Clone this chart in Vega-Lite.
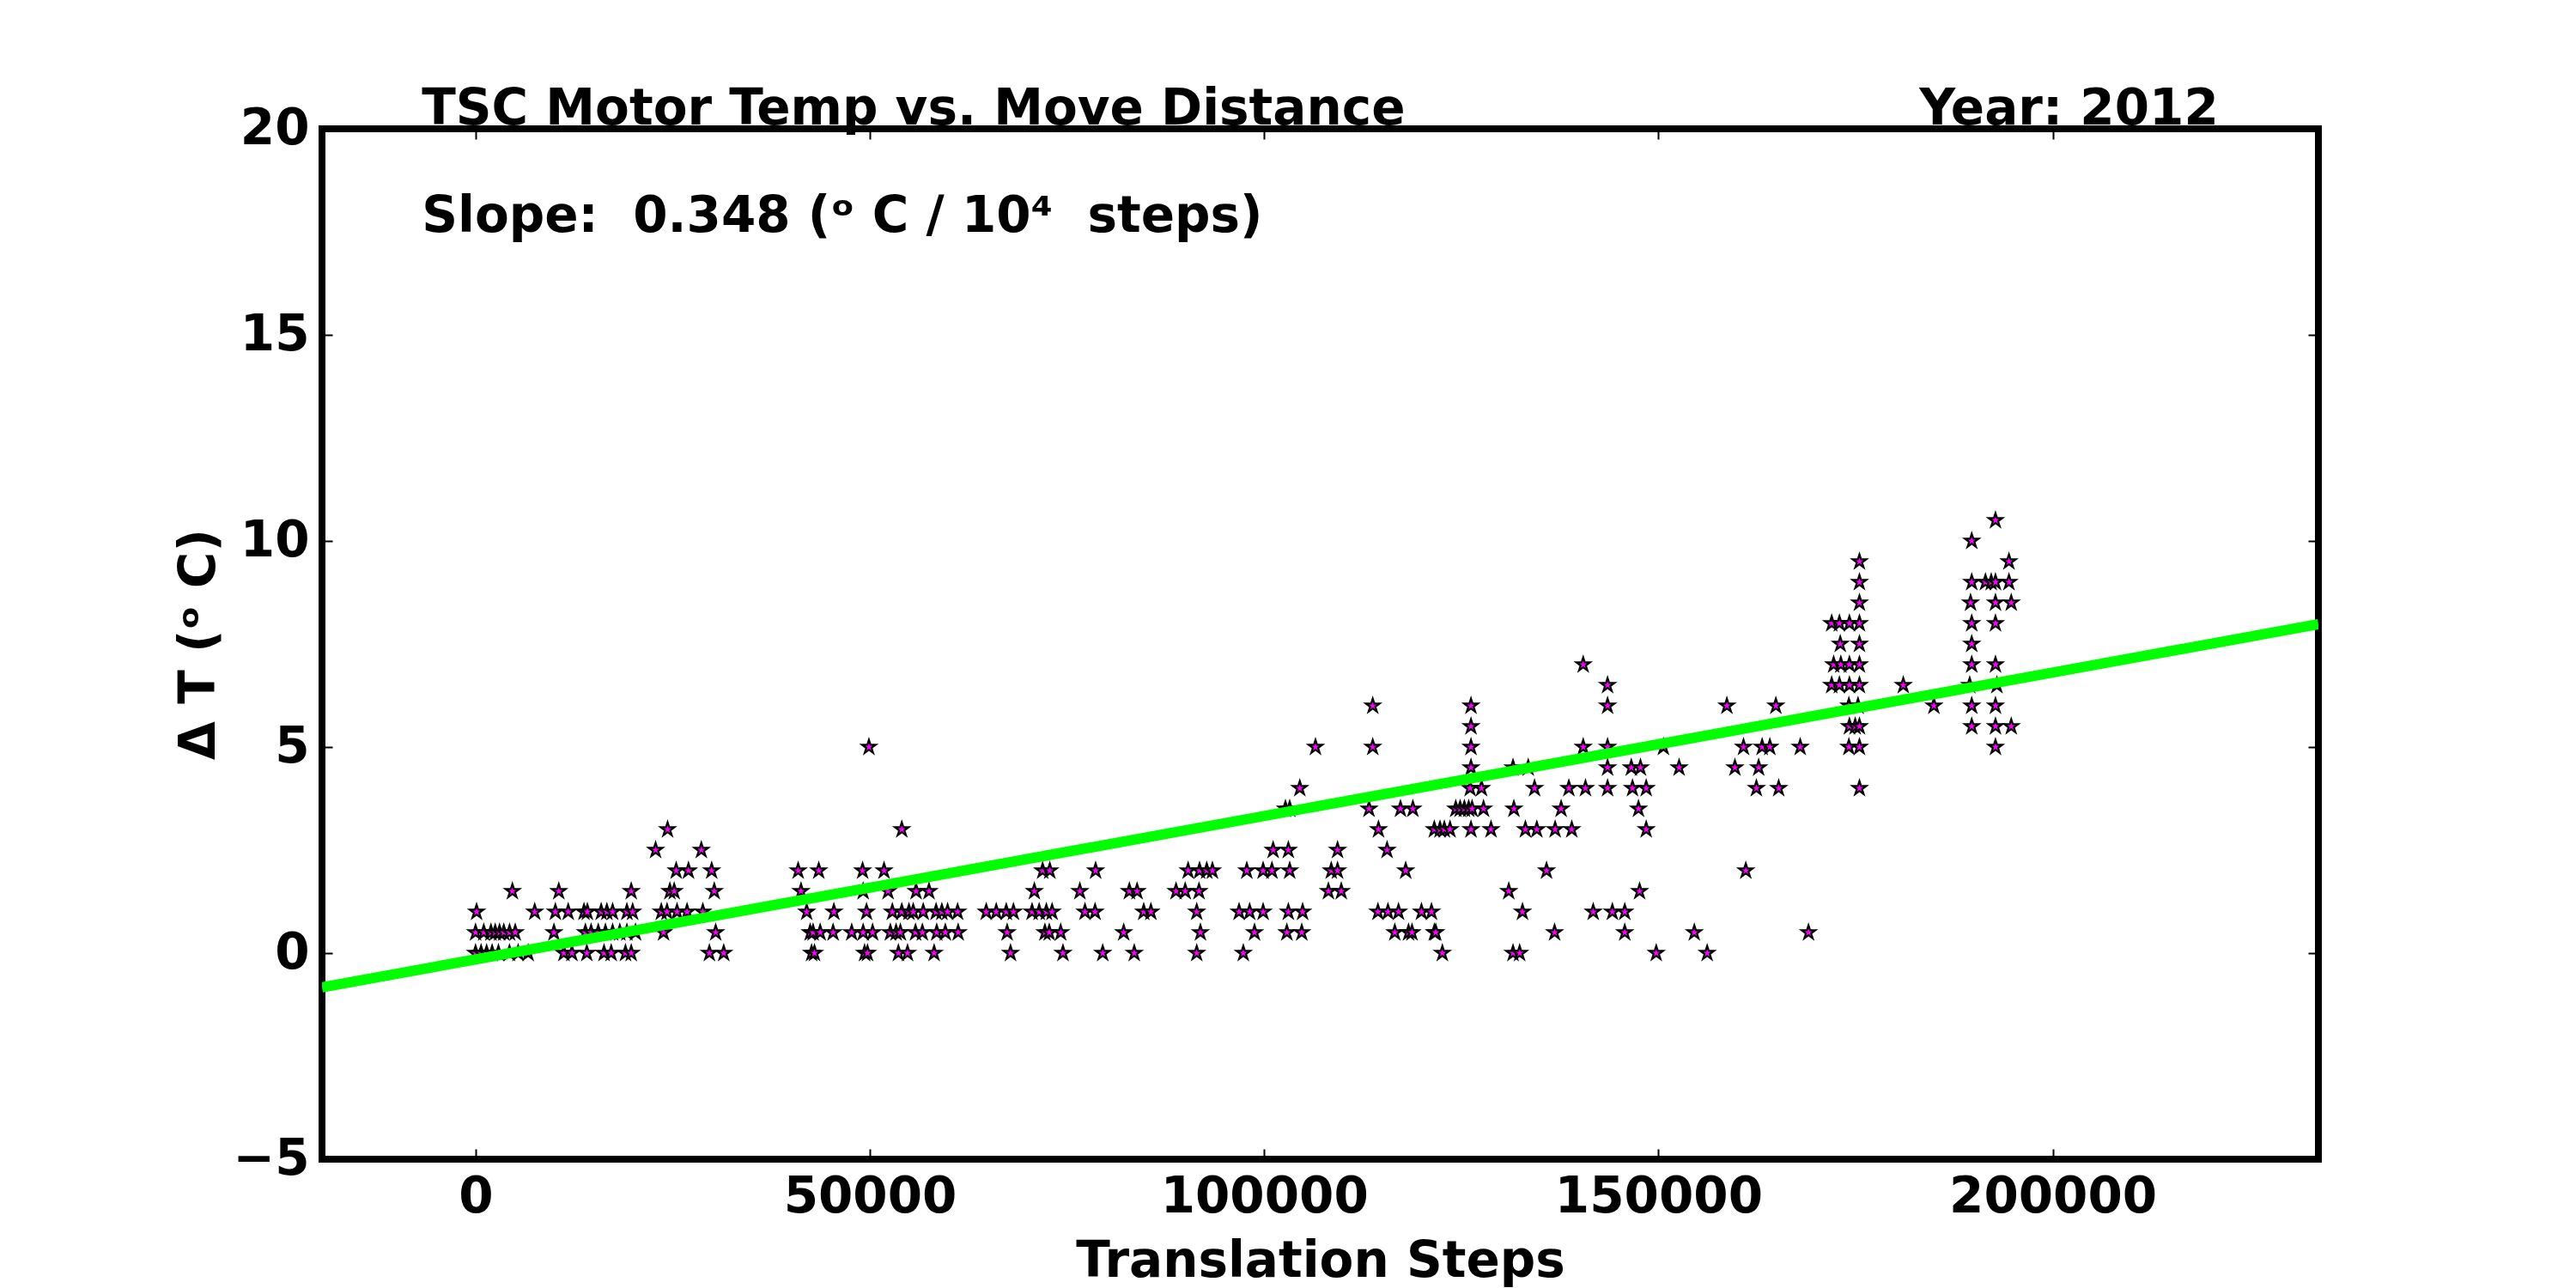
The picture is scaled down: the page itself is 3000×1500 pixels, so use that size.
{
  "$schema": "https://vega.github.io/schema/vega-lite/v6.json",
  "width": 2325,
  "height": 1200,
  "autosize": {"type": "none"},
  "padding": {"left": 375, "top": 150, "right": 300, "bottom": 150},
  "background": "white",
  "config": {
    "view": {"stroke": "black", "strokeWidth": 8},
    "font": "DejaVu Sans",
    "axis": {
      "grid": false,
      "domain": false,
      "tickColor": "black",
      "tickWidth": 2,
      "tickSize": -12,
      "labelFont": "DejaVu Sans",
      "labelFontSize": 58,
      "labelFontWeight": "bold",
      "labelColor": "black",
      "labelPadding": 27,
      "labelLimit": 500,
      "labelFlush": false,
      "labelOverlap": false,
      "titleFont": "DejaVu Sans",
      "titleFontSize": 58,
      "titleFontWeight": "bold",
      "titleColor": "black",
      "titleLimit": 1000
    }
  },
  "datasets": {
    "motor": [
      {"steps": 0, "delta_t": 0}, {"steps": 700, "delta_t": 0}, {"steps": 1400, "delta_t": 0}, {"steps": 2100, "delta_t": 0}, {"steps": 2900, "delta_t": 0},
      {"steps": 4300, "delta_t": 0}, {"steps": 5400, "delta_t": 0}, {"steps": 6670, "delta_t": 0}, {"steps": 11200, "delta_t": 0}, {"steps": 12220, "delta_t": 0},
      {"steps": 14110, "delta_t": 0}, {"steps": 16290, "delta_t": 0}, {"steps": 17200, "delta_t": 0}, {"steps": 19010, "delta_t": 0}, {"steps": 19740, "delta_t": 0},
      {"steps": 29650, "delta_t": 0}, {"steps": 31470, "delta_t": 0}, {"steps": 42610, "delta_t": 0}, {"steps": 42980, "delta_t": 0}, {"steps": 49330, "delta_t": 0},
      {"steps": 49700, "delta_t": 0}, {"steps": 53620, "delta_t": 0}, {"steps": 54780, "delta_t": 0}, {"steps": 58150, "delta_t": 0}, {"steps": 67840, "delta_t": 0},
      {"steps": 74490, "delta_t": 0}, {"steps": 79530, "delta_t": 0}, {"steps": 83530, "delta_t": 0}, {"steps": 91450, "delta_t": 0}, {"steps": 97360, "delta_t": 0},
      {"steps": 122600, "delta_t": 0}, {"steps": 131560, "delta_t": 0}, {"steps": 132400, "delta_t": 0}, {"steps": 149720, "delta_t": 0}, {"steps": 156180, "delta_t": 0},

      {"steps": 0, "delta_t": 0.5}, {"steps": 1040, "delta_t": 0.5}, {"steps": 1950, "delta_t": 0.5}, {"steps": 2490, "delta_t": 0.5}, {"steps": 3040, "delta_t": 0.5},
      {"steps": 3580, "delta_t": 0.5}, {"steps": 4310, "delta_t": 0.5}, {"steps": 5030, "delta_t": 0.5}, {"steps": 9940, "delta_t": 0.5}, {"steps": 13930, "delta_t": 0.5},
      {"steps": 14650, "delta_t": 0.5}, {"steps": 15560, "delta_t": 0.5}, {"steps": 16470, "delta_t": 0.5}, {"steps": 17380, "delta_t": 0.5}, {"steps": 18290, "delta_t": 0.5},
      {"steps": 19190, "delta_t": 0.5}, {"steps": 20280, "delta_t": 0.5}, {"steps": 23840, "delta_t": 0.5}, {"steps": 30450, "delta_t": 0.5}, {"steps": 42430, "delta_t": 0.5},
      {"steps": 42800, "delta_t": 0.5}, {"steps": 43700, "delta_t": 0.5}, {"steps": 45340, "delta_t": 0.5}, {"steps": 47700, "delta_t": 0.5}, {"steps": 49150, "delta_t": 0.5},
      {"steps": 50350, "delta_t": 0.5}, {"steps": 52600, "delta_t": 0.5}, {"steps": 53330, "delta_t": 0.5}, {"steps": 53870, "delta_t": 0.5}, {"steps": 55790, "delta_t": 0.5},
      {"steps": 56660, "delta_t": 0.5}, {"steps": 58480, "delta_t": 0.5}, {"steps": 59570, "delta_t": 0.5}, {"steps": 61200, "delta_t": 0.5}, {"steps": 67410, "delta_t": 0.5},
      {"steps": 72200, "delta_t": 0.5}, {"steps": 72750, "delta_t": 0.5}, {"steps": 74200, "delta_t": 0.5}, {"steps": 82190, "delta_t": 0.5}, {"steps": 91920, "delta_t": 0.5},
      {"steps": 98780, "delta_t": 0.5}, {"steps": 102880, "delta_t": 0.5}, {"steps": 104770, "delta_t": 0.5}, {"steps": 116570, "delta_t": 0.5}, {"steps": 118310, "delta_t": 0.5},
      {"steps": 118750, "delta_t": 0.5}, {"steps": 121580, "delta_t": 0.5}, {"steps": 121760, "delta_t": 0.5}, {"steps": 136830, "delta_t": 0.5}, {"steps": 145730, "delta_t": 0.5},
      {"steps": 154550, "delta_t": 0.5}, {"steps": 169030, "delta_t": 0.5},

      {"steps": 130, "delta_t": 1}, {"steps": 7500, "delta_t": 1}, {"steps": 10120, "delta_t": 1}, {"steps": 11750, "delta_t": 1}, {"steps": 13750, "delta_t": 1},
      {"steps": 14180, "delta_t": 1}, {"steps": 15930, "delta_t": 1}, {"steps": 16650, "delta_t": 1}, {"steps": 17380, "delta_t": 1}, {"steps": 19190, "delta_t": 1},
      {"steps": 19920, "delta_t": 1}, {"steps": 23550, "delta_t": 1}, {"steps": 24280, "delta_t": 1}, {"steps": 25550, "delta_t": 1}, {"steps": 26820, "delta_t": 1},
      {"steps": 28820, "delta_t": 1}, {"steps": 41990, "delta_t": 1}, {"steps": 45440, "delta_t": 1}, {"steps": 49580, "delta_t": 1}, {"steps": 52850, "delta_t": 1},
      {"steps": 54050, "delta_t": 1}, {"steps": 54960, "delta_t": 1}, {"steps": 55500, "delta_t": 1}, {"steps": 56770, "delta_t": 1}, {"steps": 58400, "delta_t": 1},
      {"steps": 59130, "delta_t": 1}, {"steps": 59860, "delta_t": 1}, {"steps": 61130, "delta_t": 1}, {"steps": 64760, "delta_t": 1}, {"steps": 66030, "delta_t": 1},
      {"steps": 67300, "delta_t": 1}, {"steps": 68210, "delta_t": 1}, {"steps": 70570, "delta_t": 1}, {"steps": 71470, "delta_t": 1}, {"steps": 72380, "delta_t": 1},
      {"steps": 73110, "delta_t": 1}, {"steps": 77280, "delta_t": 1}, {"steps": 78560, "delta_t": 1}, {"steps": 84730, "delta_t": 1}, {"steps": 85640, "delta_t": 1},
      {"steps": 91450, "delta_t": 1}, {"steps": 96820, "delta_t": 1}, {"steps": 98160, "delta_t": 1}, {"steps": 99870, "delta_t": 1}, {"steps": 103070, "delta_t": 1},
      {"steps": 104880, "delta_t": 1}, {"steps": 114430, "delta_t": 1}, {"steps": 115700, "delta_t": 1}, {"steps": 117040, "delta_t": 1}, {"steps": 119950, "delta_t": 1},
      {"steps": 121220, "delta_t": 1}, {"steps": 132760, "delta_t": 1}, {"steps": 141730, "delta_t": 1}, {"steps": 144160, "delta_t": 1}, {"steps": 145730, "delta_t": 1},

      {"steps": 4670, "delta_t": 1.5}, {"steps": 10550, "delta_t": 1.5}, {"steps": 19740, "delta_t": 1.5}, {"steps": 24640, "delta_t": 1.5}, {"steps": 25190, "delta_t": 1.5},
      {"steps": 30270, "delta_t": 1.5}, {"steps": 41270, "delta_t": 1.5}, {"steps": 49150, "delta_t": 1.5}, {"steps": 52310, "delta_t": 1.5}, {"steps": 55860, "delta_t": 1.5},
      {"steps": 57500, "delta_t": 1.5}, {"steps": 70860, "delta_t": 1.5}, {"steps": 76630, "delta_t": 1.5}, {"steps": 82910, "delta_t": 1.5}, {"steps": 83890, "delta_t": 1.5},
      {"steps": 88830, "delta_t": 1.5}, {"steps": 89990, "delta_t": 1.5}, {"steps": 91740, "delta_t": 1.5}, {"steps": 108150, "delta_t": 1.5}, {"steps": 109780, "delta_t": 1.5},
      {"steps": 131020, "delta_t": 1.5}, {"steps": 147610, "delta_t": 1.5},

      {"steps": 25440, "delta_t": 2}, {"steps": 27000, "delta_t": 2}, {"steps": 29940, "delta_t": 2}, {"steps": 40910, "delta_t": 2}, {"steps": 43520, "delta_t": 2},
      {"steps": 49080, "delta_t": 2}, {"steps": 51800, "delta_t": 2}, {"steps": 71910, "delta_t": 2}, {"steps": 72820, "delta_t": 2}, {"steps": 78630, "delta_t": 2},
      {"steps": 90360, "delta_t": 2}, {"steps": 91810, "delta_t": 2}, {"steps": 92720, "delta_t": 2}, {"steps": 93440, "delta_t": 2}, {"steps": 97800, "delta_t": 2},
      {"steps": 99870, "delta_t": 2}, {"steps": 100990, "delta_t": 2}, {"steps": 103240, "delta_t": 2}, {"steps": 108510, "delta_t": 2}, {"steps": 109310, "delta_t": 2},
      {"steps": 117950, "delta_t": 2}, {"steps": 135810, "delta_t": 2}, {"steps": 161080, "delta_t": 2},

      {"steps": 22830, "delta_t": 2.5}, {"steps": 28630, "delta_t": 2.5}, {"steps": 101140, "delta_t": 2.5}, {"steps": 103070, "delta_t": 2.5}, {"steps": 109310, "delta_t": 2.5},
      {"steps": 115590, "delta_t": 2.5},

      {"steps": 24350, "delta_t": 3}, {"steps": 54050, "delta_t": 3}, {"steps": 114500, "delta_t": 3}, {"steps": 121580, "delta_t": 3}, {"steps": 122300, "delta_t": 3},
      {"steps": 122850, "delta_t": 3}, {"steps": 123570, "delta_t": 3}, {"steps": 126230, "delta_t": 3}, {"steps": 128770, "delta_t": 3}, {"steps": 133130, "delta_t": 3},
      {"steps": 134580, "delta_t": 3}, {"steps": 136900, "delta_t": 3}, {"steps": 139010, "delta_t": 3}, {"steps": 148450, "delta_t": 3},

      {"steps": 102700, "delta_t": 3.5}, {"steps": 103240, "delta_t": 3.5}, {"steps": 113300, "delta_t": 3.5}, {"steps": 117290, "delta_t": 3.5}, {"steps": 118860, "delta_t": 3.5},
      {"steps": 124300, "delta_t": 3.5}, {"steps": 124850, "delta_t": 3.5}, {"steps": 125390, "delta_t": 3.5}, {"steps": 125940, "delta_t": 3.5}, {"steps": 126370, "delta_t": 3.5},
      {"steps": 127820, "delta_t": 3.5}, {"steps": 131670, "delta_t": 3.5}, {"steps": 137660, "delta_t": 3.5}, {"steps": 147470, "delta_t": 3.5},

      {"steps": 104520, "delta_t": 4}, {"steps": 126120, "delta_t": 4}, {"steps": 127570, "delta_t": 4}, {"steps": 134290, "delta_t": 4}, {"steps": 138640, "delta_t": 4},
      {"steps": 140750, "delta_t": 4}, {"steps": 143550, "delta_t": 4}, {"steps": 146710, "delta_t": 4}, {"steps": 148450, "delta_t": 4}, {"steps": 162420, "delta_t": 4},
      {"steps": 165250, "delta_t": 4}, {"steps": 175490, "delta_t": 4},

      {"steps": 126230, "delta_t": 4.5}, {"steps": 131560, "delta_t": 4.5}, {"steps": 133490, "delta_t": 4.5}, {"steps": 143550, "delta_t": 4.5}, {"steps": 146560, "delta_t": 4.5},
      {"steps": 147720, "delta_t": 4.5}, {"steps": 152620, "delta_t": 4.5}, {"steps": 159700, "delta_t": 4.5}, {"steps": 162710, "delta_t": 4.5},

      {"steps": 49880, "delta_t": 5}, {"steps": 106510, "delta_t": 5}, {"steps": 113770, "delta_t": 5}, {"steps": 126230, "delta_t": 5}, {"steps": 140460, "delta_t": 5},
      {"steps": 143550, "delta_t": 5}, {"steps": 150630, "delta_t": 5}, {"steps": 160790, "delta_t": 5}, {"steps": 163150, "delta_t": 5}, {"steps": 164130, "delta_t": 5},
      {"steps": 167980, "delta_t": 5}, {"steps": 174150, "delta_t": 5}, {"steps": 175490, "delta_t": 5}, {"steps": 192740, "delta_t": 5},

      {"steps": 126230, "delta_t": 5.5}, {"steps": 174220, "delta_t": 5.5}, {"steps": 174950, "delta_t": 5.5}, {"steps": 175490, "delta_t": 5.5}, {"steps": 189730, "delta_t": 5.5},
      {"steps": 192740, "delta_t": 5.5}, {"steps": 194740, "delta_t": 5.5},

      {"steps": 113770, "delta_t": 6}, {"steps": 126230, "delta_t": 6}, {"steps": 143550, "delta_t": 6}, {"steps": 158680, "delta_t": 6}, {"steps": 164890, "delta_t": 6},
      {"steps": 174150, "delta_t": 6}, {"steps": 175310, "delta_t": 6}, {"steps": 184930, "delta_t": 6}, {"steps": 189730, "delta_t": 6}, {"steps": 192740, "delta_t": 6},

      {"steps": 143550, "delta_t": 6.5}, {"steps": 171970, "delta_t": 6.5}, {"steps": 172950, "delta_t": 6.5}, {"steps": 174220, "delta_t": 6.5}, {"steps": 175490, "delta_t": 6.5},
      {"steps": 181050, "delta_t": 6.5}, {"steps": 189470, "delta_t": 6.5}, {"steps": 192920, "delta_t": 6.5},

      {"steps": 140460, "delta_t": 7}, {"steps": 172220, "delta_t": 7}, {"steps": 173130, "delta_t": 7}, {"steps": 174220, "delta_t": 7}, {"steps": 175490, "delta_t": 7},
      {"steps": 189730, "delta_t": 7}, {"steps": 192740, "delta_t": 7},

      {"steps": 173060, "delta_t": 7.5}, {"steps": 175490, "delta_t": 7.5}, {"steps": 189730, "delta_t": 7.5},

      {"steps": 171970, "delta_t": 8}, {"steps": 172950, "delta_t": 8}, {"steps": 174220, "delta_t": 8}, {"steps": 175490, "delta_t": 8}, {"steps": 189730, "delta_t": 8},
      {"steps": 192740, "delta_t": 8},

      {"steps": 175490, "delta_t": 8.5}, {"steps": 189580, "delta_t": 8.5}, {"steps": 192740, "delta_t": 8.5}, {"steps": 194740, "delta_t": 8.5},

      {"steps": 175490, "delta_t": 9}, {"steps": 189730, "delta_t": 9}, {"steps": 191470, "delta_t": 9}, {"steps": 192200, "delta_t": 9}, {"steps": 192740, "delta_t": 9},
      {"steps": 194450, "delta_t": 9},

      {"steps": 175490, "delta_t": 9.5}, {"steps": 194450, "delta_t": 9.5},
      {"steps": 189730, "delta_t": 10},
      {"steps": 192740, "delta_t": 10.5}
    ],
    "fit": [
      {"steps": -19474, "delta_t": -0.83},
      {"steps": 233690, "delta_t": 7.98}
    ],
    "notes": [
      {"label": "TSC Motor Temp vs. Move Distance", "role": "title"},
      {"label": "Year: 2012", "role": "year"},
      {"label": "Slope: \u00a00.348 (ᵒ C / 10⁴ \u00a0steps)", "role": "slope"}
    ]
  },
  "layer": [
    {
      "data": {"name": "motor"},
      "mark": {
        "type": "point",
        "shape": "M0,-1L0.225,-0.309L0.951,-0.309L0.363,0.118L0.588,0.809L0,0.382L-0.588,0.809L-0.363,0.118L-0.951,-0.309L-0.225,-0.309Z",
        "filled": true, "fill": "#ff00ff", "stroke": "black", "strokeWidth": 2.2, "size": 280, "opacity": 1
      },
      "encoding": {
        "x": {
          "field": "steps", "type": "quantitative",
          "scale": {"domain": [-19474, 233690], "nice": false, "zero": false},
          "axis": {"orient": "bottom", "values": [0, 50000, 100000, 150000, 200000], "format": "d", "title": "Translation Steps", "titlePadding": 17}
        },
        "y": {
          "field": "delta_t", "type": "quantitative",
          "scale": {"domain": [-5, 20], "nice": false, "zero": false},
          "axis": {"orient": "left", "values": [-5, 0, 5, 10, 15, 20], "format": "d", "title": "Δ T (ᵒ C)", "titlePadding": 10}
        }
      }
    },
    {
      "data": {"name": "fit"},
      "mark": {"type": "line", "color": "#00ff00", "strokeWidth": 12, "clip": true},
      "encoding": {
        "x": {
          "field": "steps", "type": "quantitative",
          "axis": {"orient": "top", "values": [0, 50000, 100000, 150000, 200000], "labels": false, "title": null}
        },
        "y": {
          "field": "delta_t", "type": "quantitative",
          "axis": {"orient": "right", "values": [-5, 0, 5, 10, 15, 20], "labels": false, "title": null}
        }
      }
    },
    {
      "data": {"name": "notes"},
      "transform": [{"filter": "datum.role == 'title'"}],
      "mark": {"type": "text", "align": "left", "baseline": "alphabetic", "dy": -5, "font": "DejaVu Sans", "fontSize": 58, "fontWeight": "bold", "color": "black"},
      "encoding": {
        "x": {"datum": -6816, "type": "quantitative", "axis": null},
        "y": {"datum": 20, "type": "quantitative", "axis": null},
        "text": {"field": "label"}
      }
    },
    {
      "data": {"name": "notes"},
      "transform": [{"filter": "datum.role == 'year'"}],
      "mark": {"type": "text", "align": "right", "baseline": "alphabetic", "dy": -5, "font": "DejaVu Sans", "fontSize": 58, "fontWeight": "bold", "color": "black"},
      "encoding": {
        "x": {"datum": 221032, "type": "quantitative", "axis": null},
        "y": {"datum": 20, "type": "quantitative", "axis": null},
        "text": {"field": "label"}
      }
    },
    {
      "data": {"name": "notes"},
      "transform": [{"filter": "datum.role == 'slope'"}],
      "mark": {"type": "text", "align": "left", "baseline": "alphabetic", "font": "DejaVu Sans", "fontSize": 58, "fontWeight": "bold", "color": "black"},
      "encoding": {
        "x": {"datum": -6816, "type": "quantitative", "axis": null},
        "y": {"datum": 17.5, "type": "quantitative", "axis": null},
        "text": {"field": "label"}
      }
    }
  ],
  "resolve": {"axis": {"x": "independent", "y": "independent"}}
}
